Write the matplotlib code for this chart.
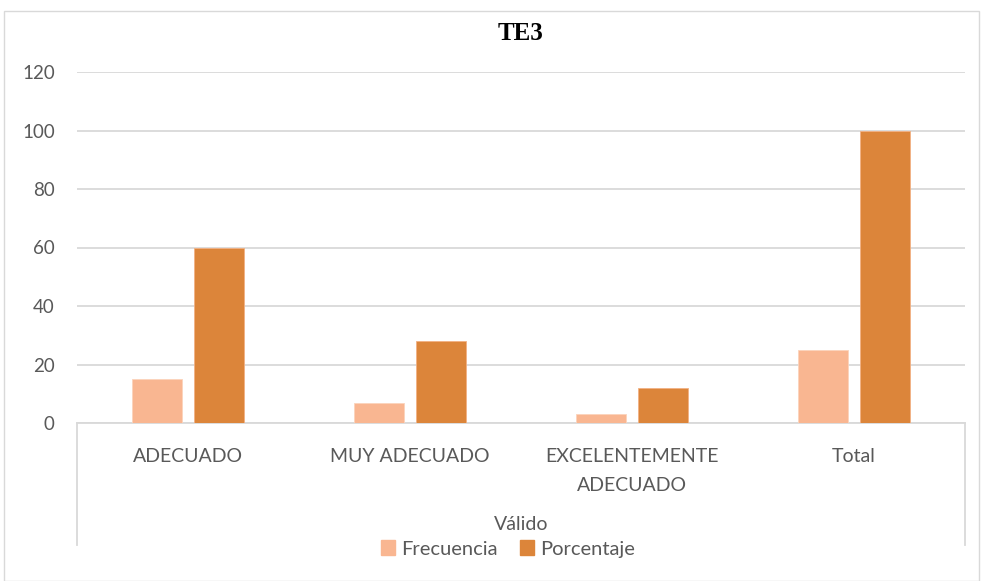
import matplotlib
matplotlib.use("Agg")
import matplotlib.pyplot as plt
import numpy as np
from matplotlib.patches import Rectangle
from matplotlib.lines import Line2D

categories = ["ADECUADO", "MUY ADECUADO", "EXCELENTEMENTE\nADECUADO", "Total"]
group_label = "Válido"
frecuencia = [15, 7, 3, 25]
porcentaje = [60, 28, 12, 100]
series_names = ["Frecuencia", "Porcentaje"]
yticks = [0, 20, 40, 60, 80, 100, 120]
title = "TE3"

c_frec = "#F9B691"
c_porc = "#DC853A"
grid_c = "#D9D9D9"
text_c = "#595959"

plt.rcParams['font.family'] = ['Lato', 'DejaVu Sans']

W, H = 983, 581
fig = plt.figure(figsize=(W/100, H/100), dpi=100)

# outer chart border
fig.patches.append(Rectangle((4/W, 0), (975/W), (570/H), transform=fig.transFigure,
                             fill=False, edgecolor="#D9D9D9", lw=1))

l, r, t, b = 77, 965, 72, 423
ax = fig.add_axes([l/W, 1-b/H, (r-l)/W, (b-t)/H])
x = np.arange(len(categories))
w = 0.225
ax.bar(x - 0.14, frecuencia, w, color=c_frec, edgecolor="#FBD3BC", lw=0.6, zorder=3)
ax.bar(x + 0.14, porcentaje, w, color=c_porc, edgecolor="#F2B183", lw=0.6, zorder=3)
ax.set_xlim(-0.5, len(categories) - 0.5)
ax.set_ylim(0, 120)
ax.set_yticks(yticks)
ax.yaxis.grid(True, color=grid_c, lw=1.3)
ax.set_axisbelow(True)
for s in ["top", "right", "left"]:
    ax.spines[s].set_visible(False)
ax.spines["bottom"].set_color(grid_c)
ax.spines["bottom"].set_linewidth(1.3)
ax.tick_params(axis="y", length=0, labelsize=13.5, labelcolor=text_c, pad=16)
ax.set_xticks([])

# category labels
for xi, cat in zip(x, categories):
    ax.text(xi, -8.6, cat, ha="center", va="top", fontsize=14, color=text_c,
            linespacing=1.85, transform=ax.transData, clip_on=False)

# multi-level axis vertical lines
y0 = 1 - b/H
y1 = 1 - 545/H
for xp in (l/W, r/W):
    fig.add_artist(Line2D([xp, xp], [y0, y1], color=grid_c, lw=1.3, transform=fig.transFigure))

fig.text((l+r)/2/W, 1-524/H, group_label, ha="center", va="center", fontsize=14, color=text_c)

# legend
handles = [Rectangle((0, 0), 1, 1, color=c_frec), Rectangle((0, 0), 1, 1, color=c_porc)]
fig.legend(handles, series_names, loc="center", bbox_to_anchor=(508/W, 1-549/H), ncol=2,
           frameon=False, fontsize=14.5, handlelength=0.7, handleheight=0.7,
           handletextpad=0.3, columnspacing=1.1, labelcolor=text_c)

fig.text(520/W, 1-33/H, title, ha="center", va="center", fontsize=18, fontweight="bold",
         family="Liberation Serif", color="black")

fig.savefig("out.png", dpi=100)
